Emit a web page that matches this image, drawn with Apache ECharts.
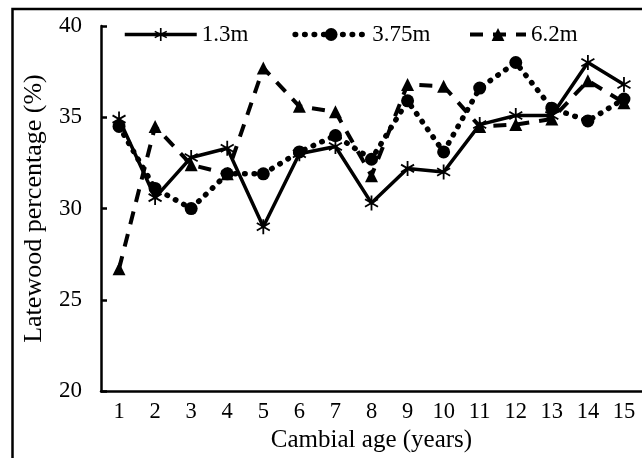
<!DOCTYPE html>
<html>
<head>
<meta charset="utf-8">
<script src="https://cdn.jsdelivr.net/npm/echarts@6/dist/echarts.min.js"></script>
<style>
  html, body { margin: 0; padding: 0; background: #fff; }
  #chart { width: 642px; height: 458px; }
</style>
</head>
<body>
<div id="chart"></div>
<script>
var ages = ['1', '2', '3', '4', '5', '6', '7', '8', '9', '10', '11', '12', '13', '14', '15'];
var names = ['1.3m', '3.75m', '6.2m'];
var h13 = [34.9, 30.6, 32.8, 33.3, 29.0, 33.0, 33.4, 30.3, 32.2, 32.0, 34.6, 35.1, 35.1, 38.0, 36.8];
var h375 = [34.5, 31.1, 30.0, 31.9, 31.9, 33.1, 34.0, 32.7, 35.9, 33.1, 36.6, 38.0, 35.5, 34.8, 36.0];
var h62 = [26.7, 34.5, 32.4, 31.9, 37.7, 35.6, 35.3, 31.8, 36.8, 36.7, 34.5, 34.6, 34.9, 37.0, 35.8];
var yMin = 20, yMax = 40, yStep = 5;

var FONT = '"Liberation Serif", "Times New Roman", serif';
// six-armed asterisk marker
var ASTERISK = 'path://M1.2,-10L1.2,10L-1.2,10L-1.2,-10Z' +
  'M8.06,-6.04L9.26,-3.96L-8.06,6.04L-9.26,3.96Z' +
  'M9.26,3.96L8.06,6.04L-9.26,-3.96L-8.06,-6.04Z';

var chart = echarts.init(document.getElementById('chart'), null, { renderer: 'canvas' });

function lineSeries(name, data, symbol, size, lineStyle) {
  return {
    name: name,
    type: 'line',
    data: data,
    symbol: symbol,
    symbolSize: size,
    symbolKeepAspect: true,
    showAllSymbol: true,
    itemStyle: { color: '#000' },
    lineStyle: Object.assign({ color: '#000' }, lineStyle),
    emphasis: { disabled: true },
    animation: false
  };
}

function legendBox(items, left, itemWidth) {
  return {
    data: items,
    top: 18,
    left: left,
    itemWidth: itemWidth,
    itemHeight: 16,
    itemGap: 44,
    lineStyle: { width: 'inherit' },
    textStyle: { fontFamily: FONT, fontSize: 23, color: '#000' }
  };
}

chart.setOption({
  backgroundColor: '#fff',
  animation: false,
  graphic: [{
    type: 'rect',
    shape: { x: 12.5, y: 9, width: 700, height: 500 },
    style: { fill: 'none', stroke: '#000', lineWidth: 2.5 },
    silent: true
  }],
  legend: [
    legendBox([names[0], names[1]], 118, 72),
    legendBox([names[2]], 463, 56)
  ],
  grid: { left: 101, top: 26, width: 544, height: 367 },
  xAxis: {
    type: 'category',
    data: ages,
    boundaryGap: true,
    name: 'Cambial age (years)',
    nameLocation: 'middle',
    nameGap: 33,
    nameTextStyle: { fontFamily: FONT, fontSize: 25, color: '#000' },
    axisLine: { lineStyle: { color: '#000', width: 2.5 } },
    axisTick: { inside: true, length: 6, lineStyle: { color: '#000', width: 2.5 } },
    axisLabel: { fontFamily: FONT, fontSize: 22.5, color: '#000', margin: 9, interval: 0 },
    splitLine: { show: false }
  },
  yAxis: {
    type: 'value',
    min: yMin,
    max: yMax,
    interval: yStep,
    name: 'Latewood percentage (%)',
    nameLocation: 'middle',
    nameGap: 54,
    nameTextStyle: { fontFamily: FONT, fontSize: 26, color: '#000' },
    axisLine: { show: true, lineStyle: { color: '#000', width: 2.5 } },
    axisTick: { show: true, inside: true, length: 6, lineStyle: { color: '#000', width: 2.5 } },
    axisLabel: { fontFamily: FONT, fontSize: 23, color: '#000', margin: 19 },
    splitLine: { show: false }
  },
  series: [
    lineSeries(names[0], h13, ASTERISK, 15, { width: 3.5, type: 'solid' }),
    lineSeries(names[1], h375, 'circle', 13, { width: 5.5, type: [0.5, 9], cap: 'round' }),
    lineSeries(names[2], h62, 'triangle', 13, { width: 4, type: [13, 10], cap: 'butt' })
  ]
});
</script>
</body>
</html>
